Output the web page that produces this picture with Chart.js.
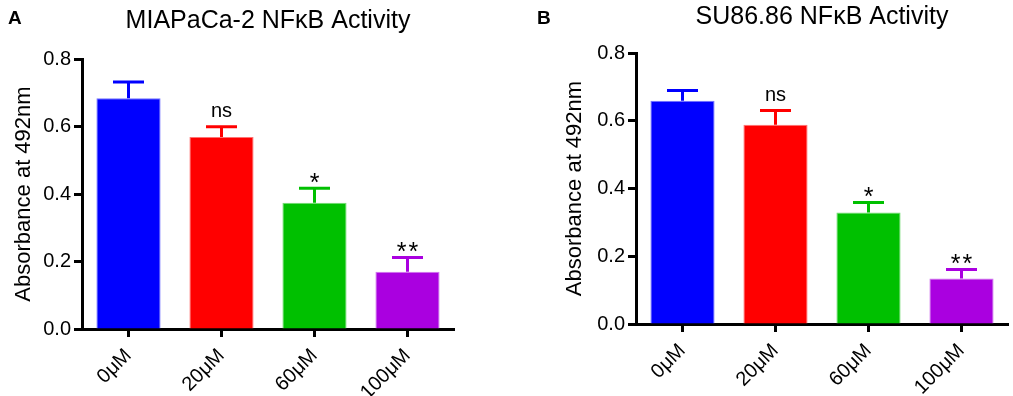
<!DOCTYPE html>
<html>
<head>
<meta charset="utf-8">
<script src="https://cdn.jsdelivr.net/npm/chart.js@4/dist/chart.umd.min.js"></script>
<style>
  html, body { margin: 0; padding: 0; background: #fff; }
  #wrap { position: relative; width: 1013px; height: 396px; overflow: hidden; }
  .panel { position: absolute; top: 0; height: 396px; }
</style>
</head>
<body>
<div id="wrap">
  <div class="panel" style="left:0;width:506px"><canvas id="cA"></canvas></div>
  <div class="panel" style="left:506px;width:507px"><canvas id="cB"></canvas></div>
</div>
<script>
// ---- data ----
const categories = ['0\u03BCM', '20\u03BCM', '60\u03BCM', '100\u03BCM'];
const barColors = ['#0000ff', '#ff0000', '#00c000', '#aa00e0'];
const yTickValues = [0.0, 0.2, 0.4, 0.6, 0.8];

const miaTitle = 'MIAPaCa-2 NF\u03BAB Activity';
const miaValues = [0.684, 0.569, 0.374, 0.170];
const miaErrors = [0.048, 0.030, 0.043, 0.042];
const miaMarks = ['', 'ns', '*', '**'];

const suTitle = 'SU86.86 NF\u03BAB Activity';
const suValues = [0.659, 0.588, 0.329, 0.134];
const suErrors = [0.030, 0.042, 0.030, 0.027];
const suMarks = ['', 'ns', '*', '**'];

const yAxisTitle = 'Absorbance at 492nm';
const FONT = '"Liberation Sans", Arial, Helvetica, sans-serif';

function lighten(hex, f) {
  const n = parseInt(hex.slice(1), 16);
  const r = (n >> 16) & 255, g = (n >> 8) & 255, b = n & 255;
  const m = c => Math.round(c + (255 - c) * f);
  return `rgb(${m(r)},${m(g)},${m(b)})`;
}

function makeChart(id, o) {
  const errorBars = {
    id: 'errorBars',
    afterDatasetsDraw(chart) {
      const ctx = chart.ctx;
      const meta = chart.getDatasetMeta(0);
      const ys = chart.scales.y;
      ctx.save();
      ctx.lineWidth = 3;
      meta.data.forEach((bar, i) => {
        const top = ys.getPixelForValue(o.values[i]);
        const cap = ys.getPixelForValue(o.values[i] + o.errors[i]);
        ctx.strokeStyle = barColors[i];
        ctx.beginPath();
        ctx.moveTo(bar.x, top);
        ctx.lineTo(bar.x, cap);
        ctx.moveTo(bar.x - 15.5, cap);
        ctx.lineTo(bar.x + 15.5, cap);
        ctx.stroke();
        const mark = o.marks[i];
        if (mark) {
          ctx.fillStyle = '#000';
          ctx.textAlign = 'center';
          ctx.textBaseline = 'alphabetic';
          if (mark === 'ns') {
            ctx.font = '20px ' + FONT;
            ctx.fillText(mark, bar.x, cap - 10);
          } else {
            ctx.font = '25px ' + FONT;
            const s = mark.split('').join('\u200A');
            ctx.fillText(s, bar.x, cap + 3);
          }
        }
      });
      ctx.restore();
    }
  };
  const titles = {
    id: 'panelTitles',
    afterDraw(chart) {
      const ctx = chart.ctx;
      const ca = chart.chartArea;
      ctx.save();
      ctx.fillStyle = '#000';
      ctx.textBaseline = 'alphabetic';
      ctx.textAlign = 'center';
      ctx.font = '25px ' + FONT;
      ctx.fillText(o.title, (ca.left + ca.right) / 2, o.titleBaseline);
      ctx.textAlign = 'left';
      ctx.font = 'bold 19px ' + FONT;
      ctx.fillText(o.letter, o.letterX, 24);
      ctx.restore();
    }
  };

  return new Chart(document.getElementById(id), {
    type: 'bar',
    data: {
      labels: categories,
      datasets: [{
        data: o.values,
        backgroundColor: barColors,
        borderColor: barColors.map(c => lighten(c, 0.45)),
        borderWidth: 1,
        borderSkipped: 'bottom',
        categoryPercentage: 1.0,
        barPercentage: 0.69
      }]
    },
    options: {
      responsive: true,
      maintainAspectRatio: false,
      animation: false,
      layout: { padding: { top: o.top, left: o.padLeft, right: o.padRight, bottom: 0 } },
      plugins: { legend: { display: false }, tooltip: { enabled: false }, title: { display: false } },
      scales: {
        x: {
          afterFit: s => { s.height = o.xHeight; },
          border: { display: true, color: '#000', width: 3 },
          grid: { display: true, offset: false, drawOnChartArea: false, drawTicks: true,
                  tickLength: 8, tickWidth: 3, tickColor: '#000', color: '#000' },
          ticks: { color: '#000', font: { family: FONT, size: 20 }, minRotation: 45, maxRotation: 45,
                   padding: 7, autoSkip: false }
        },
        y: {
          min: 0, max: 0.8,
          afterFit: s => { s.width = 82; },
          afterBuildTicks: s => { s.ticks = yTickValues.map(v => ({ value: v })); },
          border: { display: true, color: '#000', width: 3 },
          grid: { display: true, drawOnChartArea: false, drawTicks: true,
                  tickLength: 8, tickWidth: 3, tickColor: '#000', color: '#000' },
          ticks: { color: '#000', font: { family: FONT, size: 20 }, padding: 3,
                   callback: v => Number(v).toFixed(1) },
          title: { display: true, text: yAxisTitle, color: '#000',
                   font: { family: FONT, size: 22 }, padding: { top: o.yTitlePad, bottom: 0 } }
        }
      }
    },
    plugins: [errorBars, titles]
  });
}

makeChart('cA', { values: miaValues, errors: miaErrors, marks: miaMarks, title: miaTitle,
  letter: 'A', letterX: 8, titleBaseline: 28, top: 59, padLeft: 0, padRight: 52, xHeight: 67, yTitlePad: 11 });
makeChart('cB', { values: suValues, errors: suErrors, marks: suMarks, title: suTitle,
  letter: 'B', letterX: 31, titleBaseline: 24, top: 53, padLeft: 48, padRight: 5, xHeight: 72, yTitlePad: 8 });
</script>
</body>
</html>
